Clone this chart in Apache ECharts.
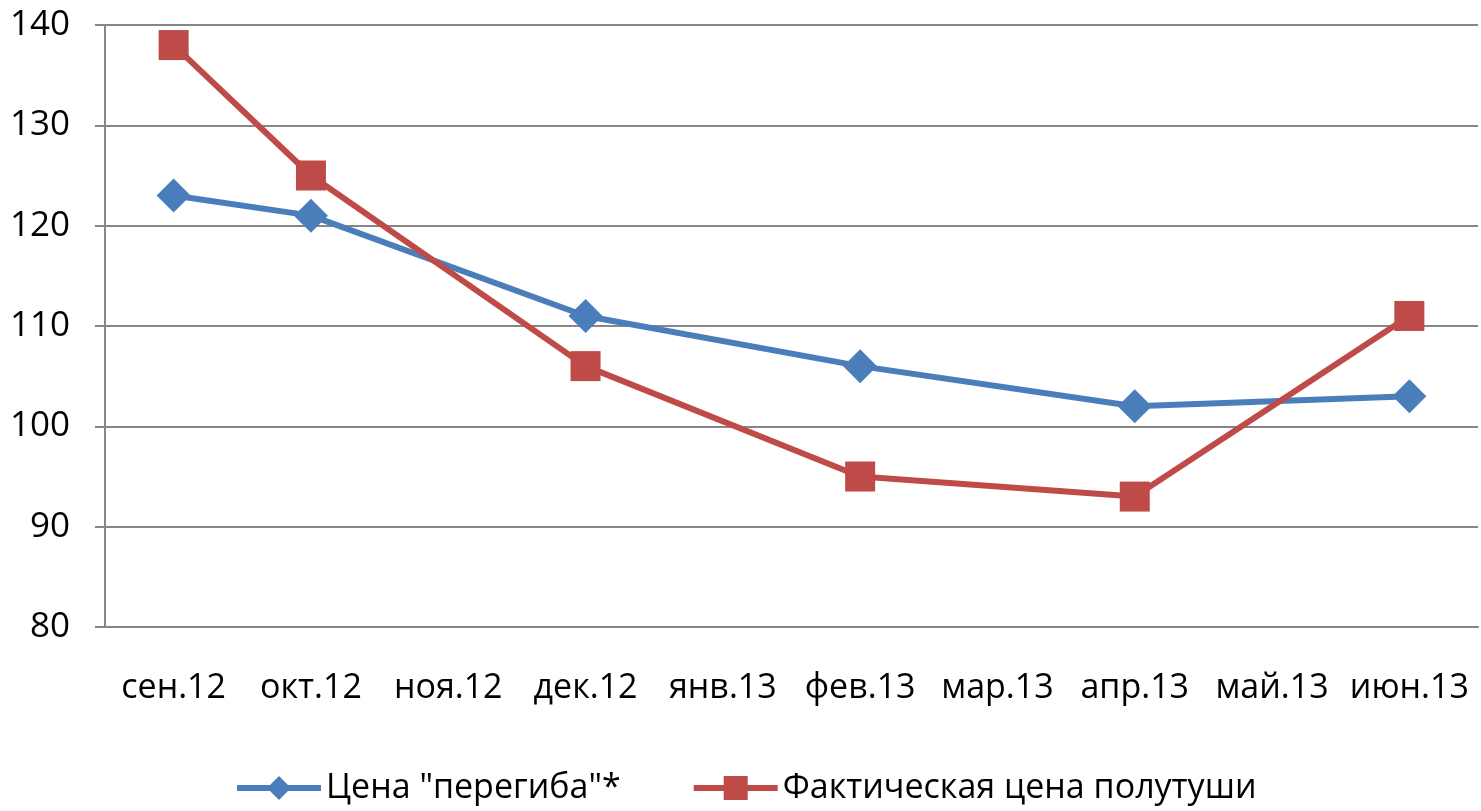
<!DOCTYPE html>
<html>
<head>
<meta charset="utf-8">
<script src="https://cdn.jsdelivr.net/npm/echarts@6/dist/echarts.min.js"></script>
<style>
html, body { margin: 0; padding: 0; background: #fff; }
#chart { width: 1481px; height: 811px; }
</style>
</head>
<body>
<div id="chart"></div>
<script>
// месяцы
var months = ['сен.12', 'окт.12', 'ноя.12', 'дек.12', 'янв.13', 'фев.13', 'мар.13', 'апр.13', 'май.13', 'июн.13'];
// Цена "перегиба"*
var bendPrice = [123, 121, null, 111, null, 106, null, 102, null, 103];
// Фактическая цена полутуши
var actualPrice = [138, 125, null, 106, null, 95, null, 93, null, 111];
var yTicks = [80, 90, 100, 110, 120, 130, 140];

var chart = echarts.init(document.getElementById('chart'));
var font = '"Open Sans", "Noto Sans", sans-serif';
var axisGray = '#868686';

chart.setOption({
	animation: false,
	textStyle: { fontFamily: font },
	grid: { left: 105, right: 3, top: 25, bottom: 184 },
	legend: {
		top: 766,
		left: 229,
		itemWidth: 84,
		itemHeight: 30,
		itemGap: 70,
		lineStyle: { width: 6 },
		textStyle: { fontSize: 34, color: '#000', fontFamily: font },
		data: ['Цена "перегиба"*', 'Фактическая цена полутуши']
	},
	xAxis: {
		type: 'category',
		data: months,
		boundaryGap: true,
		axisLine: { lineStyle: { color: axisGray, width: 2 } },
		axisTick: { length: 13, lineStyle: { color: axisGray, width: 2 } },
		axisLabel: { fontSize: 34, color: '#000', margin: 44, interval: 0 }
	},
	yAxis: {
		type: 'value',
		min: yTicks[0],
		max: yTicks[yTicks.length - 1],
		interval: 10,
		axisLine: { show: true, lineStyle: { color: axisGray, width: 2 } },
		axisTick: { show: true, length: 10, lineStyle: { color: axisGray, width: 2 } },
		splitLine: { lineStyle: { color: axisGray, width: 2 } },
		axisLabel: { fontSize: 35, color: '#000', margin: 35 }
	},
	series: [{
		name: 'Цена "перегиба"*',
		type: 'line',
		data: bendPrice,
		connectNulls: true,
		symbol: 'diamond',
		symbolSize: 34,
		color: '#4A7EBB',
		lineStyle: { width: 6, color: '#4A7EBB' },
		itemStyle: { color: '#4A7EBB' }
	}, {
		name: 'Фактическая цена полутуши',
		type: 'line',
		data: actualPrice,
		connectNulls: true,
		symbol: 'rect',
		symbolSize: 30,
		color: '#BE4B48',
		lineStyle: { width: 6, color: '#BE4B48' },
		itemStyle: { color: '#BE4B48' }
	}]
});
</script>
</body>
</html>
